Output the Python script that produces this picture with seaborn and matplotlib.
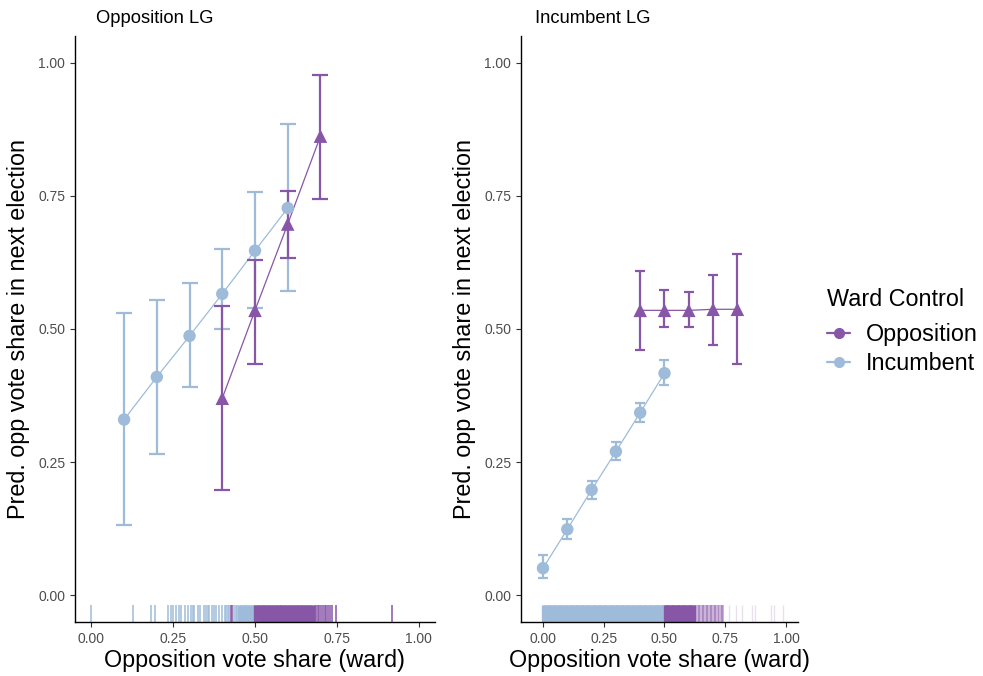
import numpy as np
import pandas as pd
import matplotlib
matplotlib.use("Agg")
import matplotlib.pyplot as plt
from matplotlib.lines import Line2D
import seaborn as sns

# colours (brewer BuPu)
col_opp = "#8856a7"
col_inc = "#9ebcda"

# ---- Opposition LG panel ----
opp_lg_inc_x = [0.1, 0.2, 0.3, 0.4, 0.5, 0.6]
opp_lg_inc_y = [0.330, 0.410, 0.487, 0.566, 0.647, 0.727]
opp_lg_inc_lo = [0.133, 0.265, 0.392, 0.500, 0.540, 0.571]
opp_lg_inc_hi = [0.530, 0.555, 0.587, 0.650, 0.757, 0.885]

opp_lg_opp_x = [0.4, 0.5, 0.6, 0.7]
opp_lg_opp_y = [0.370, 0.535, 0.697, 0.862]
opp_lg_opp_lo = [0.197, 0.435, 0.634, 0.744]
opp_lg_opp_hi = [0.543, 0.630, 0.759, 0.977]

# ---- Incumbent LG panel ----
inc_lg_inc_x = [0.0, 0.1, 0.2, 0.3, 0.4, 0.5]
inc_lg_inc_y = [0.051, 0.124, 0.198, 0.270, 0.343, 0.417]
inc_lg_inc_lo = [0.032, 0.105, 0.181, 0.255, 0.325, 0.395]
inc_lg_inc_hi = [0.075, 0.143, 0.215, 0.287, 0.362, 0.442]

inc_lg_opp_x = [0.4, 0.5, 0.6, 0.7, 0.8]
inc_lg_opp_y = [0.535, 0.535, 0.535, 0.537, 0.537]
inc_lg_opp_lo = [0.460, 0.503, 0.503, 0.470, 0.435]
inc_lg_opp_hi = [0.608, 0.573, 0.570, 0.602, 0.640]

# ---- rug data (ward opposition vote share) ----
rug_left_inc = [0.000, 0.128, 0.182, 0.195, 0.233, 0.242, 0.249, 0.259, 0.267,
                0.274, 0.287, 0.295, 0.305, 0.310, 0.315, 0.325, 0.333, 0.345,
                0.350, 0.355, 0.360, 0.370, 0.375, 0.380, 0.390, 0.398, 0.407,
                0.412, 0.417, 0.422, 0.437, 0.442, 0.446]
rug_left_inc_dense = [0.450, 0.454, 0.458, 0.462, 0.466, 0.470, 0.474, 0.478,
                      0.482, 0.486, 0.490, 0.494, 0.498]
rug_left_opp = [0.427, 0.431, 0.682, 0.687, 0.692, 0.697, 0.702, 0.707, 0.713,
                0.718, 0.722, 0.728, 0.736, 0.748, 0.920]
rug_left_opp_dense = [0.500, 0.504, 0.508, 0.512, 0.516, 0.520, 0.524, 0.528,
                      0.532, 0.536, 0.540, 0.544, 0.548, 0.552, 0.556, 0.560,
                      0.564, 0.568, 0.572, 0.576, 0.580, 0.584, 0.588, 0.592,
                      0.596, 0.600, 0.604, 0.608, 0.612, 0.616, 0.620, 0.624,
                      0.628, 0.632, 0.636, 0.640, 0.644, 0.648, 0.652, 0.656,
                      0.660, 0.664, 0.668, 0.672, 0.676]

rug_right_inc = [0.000, 0.005, 0.010, 0.015, 0.020, 0.025, 0.030, 0.035, 0.040,
                 0.045, 0.050, 0.055, 0.060, 0.065, 0.070, 0.075, 0.080, 0.085,
                 0.090, 0.095, 0.100, 0.105, 0.110, 0.115, 0.120, 0.125, 0.130,
                 0.135, 0.140, 0.145, 0.150, 0.155, 0.160, 0.165, 0.170, 0.175,
                 0.180, 0.185, 0.190, 0.195, 0.200, 0.205, 0.210, 0.215, 0.220,
                 0.225, 0.230, 0.235, 0.240, 0.245, 0.250, 0.255, 0.260, 0.265,
                 0.270, 0.275, 0.280, 0.285, 0.290, 0.295, 0.300, 0.305, 0.310,
                 0.315, 0.320, 0.325, 0.330, 0.335, 0.340, 0.345, 0.350, 0.355,
                 0.360, 0.365, 0.370, 0.375, 0.380, 0.385, 0.390, 0.395, 0.400,
                 0.405, 0.410, 0.415, 0.420, 0.425, 0.430, 0.435, 0.440, 0.445,
                 0.450, 0.455, 0.460, 0.465, 0.470, 0.475, 0.480, 0.485, 0.490,
                 0.495, 0.498]
rug_right_opp_dense = [0.502, 0.505, 0.510, 0.515, 0.520, 0.525, 0.530, 0.535,
                       0.540, 0.545, 0.550, 0.555, 0.560, 0.565, 0.570, 0.575,
                       0.580, 0.585, 0.590, 0.595, 0.600, 0.605, 0.610, 0.615,
                       0.620]
rug_right_opp_mid = [0.625, 0.630, 0.636, 0.641, 0.648, 0.653, 0.660, 0.664,
                     0.670, 0.676, 0.680, 0.686, 0.690, 0.697, 0.702, 0.708,
                     0.713, 0.720, 0.726, 0.732, 0.738, 0.742]
rug_right_opp_sparse = [0.765, 0.794, 0.817, 0.862, 0.873, 0.940, 0.950, 0.986]

sns.set_theme(style="ticks")
plt.rcParams["font.family"] = ["Liberation Sans", "DejaVu Sans"]
plt.rcParams["text.color"] = "black"
plt.rcParams["axes.labelcolor"] = "black"
plt.rcParams["axes.edgecolor"] = "black"
plt.rcParams["xtick.color"] = "#333333"
plt.rcParams["ytick.color"] = "#333333"
plt.rcParams["xtick.labelcolor"] = "#4d4d4d"
plt.rcParams["ytick.labelcolor"] = "#4d4d4d"


def make_df(x, y, lo, hi, label):
    return pd.DataFrame({"x": x, "y": y, "lo": lo, "hi": hi, "control": label})


def draw_panel(ax, inc, opp, capsize):
    for d, c, m, ms in [(inc, col_inc, "o", 80), (opp, col_opp, "^", 95)]:
        sns.lineplot(data=d, x="x", y="y", color=c, lw=0.9, ax=ax,
                     legend=False, errorbar=None)
        ax.errorbar(d["x"], d["y"], yerr=[d["y"] - d["lo"], d["hi"] - d["y"]],
                    fmt="none", ecolor=c, elinewidth=1.6, capsize=capsize,
                    capthick=1.6)
        sns.scatterplot(data=d, x="x", y="y", color=c, marker=m, s=ms,
                        edgecolor="none", ax=ax, legend=False, zorder=3)


def rug(ax, vals, c, width, alpha=1.0):
    sns.rugplot(x=vals, ax=ax, height=0.029, color=c, linewidth=width,
                alpha=alpha, expand_margins=False)


fig = plt.figure(figsize=(9.83, 6.76), dpi=100)
ax1 = fig.add_axes([75 / 983, 1 - 622 / 676, 360 / 983, 586 / 676])
ax2 = fig.add_axes([521 / 983, 1 - 622 / 676, 277 / 983, 586 / 676])

draw_panel(ax1,
           make_df(opp_lg_inc_x, opp_lg_inc_y, opp_lg_inc_lo, opp_lg_inc_hi, "Incumbent"),
           make_df(opp_lg_opp_x, opp_lg_opp_y, opp_lg_opp_lo, opp_lg_opp_hi, "Opposition"),
           capsize=6)
draw_panel(ax2,
           make_df(inc_lg_inc_x, inc_lg_inc_y, inc_lg_inc_lo, inc_lg_inc_hi, "Incumbent"),
           make_df(inc_lg_opp_x, inc_lg_opp_y, inc_lg_opp_lo, inc_lg_opp_hi, "Opposition"),
           capsize=3.8)

rug(ax1, rug_left_inc, col_inc, 1.1)
rug(ax1, rug_left_inc_dense, col_inc, 2.4)
rug(ax1, rug_left_opp, col_opp, 1.1)
rug(ax1, rug_left_opp_dense, col_opp, 2.4)
rug(ax2, rug_right_inc, col_inc, 2.4)
rug(ax2, rug_right_opp_dense, col_opp, 2.4)
rug(ax2, rug_right_opp_mid, col_opp, 1.4, alpha=0.45)
rug(ax2, rug_right_opp_sparse, col_opp, 1.0, alpha=0.18)

ticks = [0.0, 0.25, 0.5, 0.75, 1.0]
tick_labels = ["0.00", "0.25", "0.50", "0.75", "1.00"]
for ax, xlim in [(ax1, (-0.05, 1.05)), (ax2, (-0.0905, 1.0494))]:
    ax.set_xlim(*xlim)
    ax.set_ylim(-0.05, 1.05)
    ax.set_xticks(ticks)
    ax.set_xticklabels(tick_labels)
    ax.set_yticks(ticks)
    ax.set_yticklabels(tick_labels)
    ax.tick_params(labelsize=10, length=3.5, width=0.8)
    ax.set_xlabel("Opposition vote share (ward)", fontsize=16.8, labelpad=2)
    ax.set_ylabel("Pred. opp vote share in next election", fontsize=16.8, labelpad=6)
    for s in ["top", "right"]:
        ax.spines[s].set_visible(False)
    for s in ["left", "bottom"]:
        ax.spines[s].set_linewidth(1.0)

fig.text(96 / 983, 1 - 23 / 676, "Opposition LG", fontsize=13.2, va="baseline", ha="left")
fig.text(535 / 983, 1 - 23 / 676, "Incumbent LG", fontsize=13.2, va="baseline", ha="left")

handles = [Line2D([], [], color=col_opp, marker="o", markersize=7, lw=1.6),
           Line2D([], [], color=col_inc, marker="o", markersize=7, lw=1.6)]
leg = fig.legend(handles, ["Opposition", "Incumbent"], title="Ward Control",
                 loc="upper left", bbox_to_anchor=(827 / 983, 1 - 288 / 676),
                 frameon=False, fontsize=16.8, title_fontsize=16.8, borderpad=0,
                 borderaxespad=0, handlelength=1.0, handletextpad=0.65,
                 labelspacing=0.25)
leg._legend_box.align = "left"
leg._legend_box.sep = 9

fig.savefig("out.png", dpi=100)
